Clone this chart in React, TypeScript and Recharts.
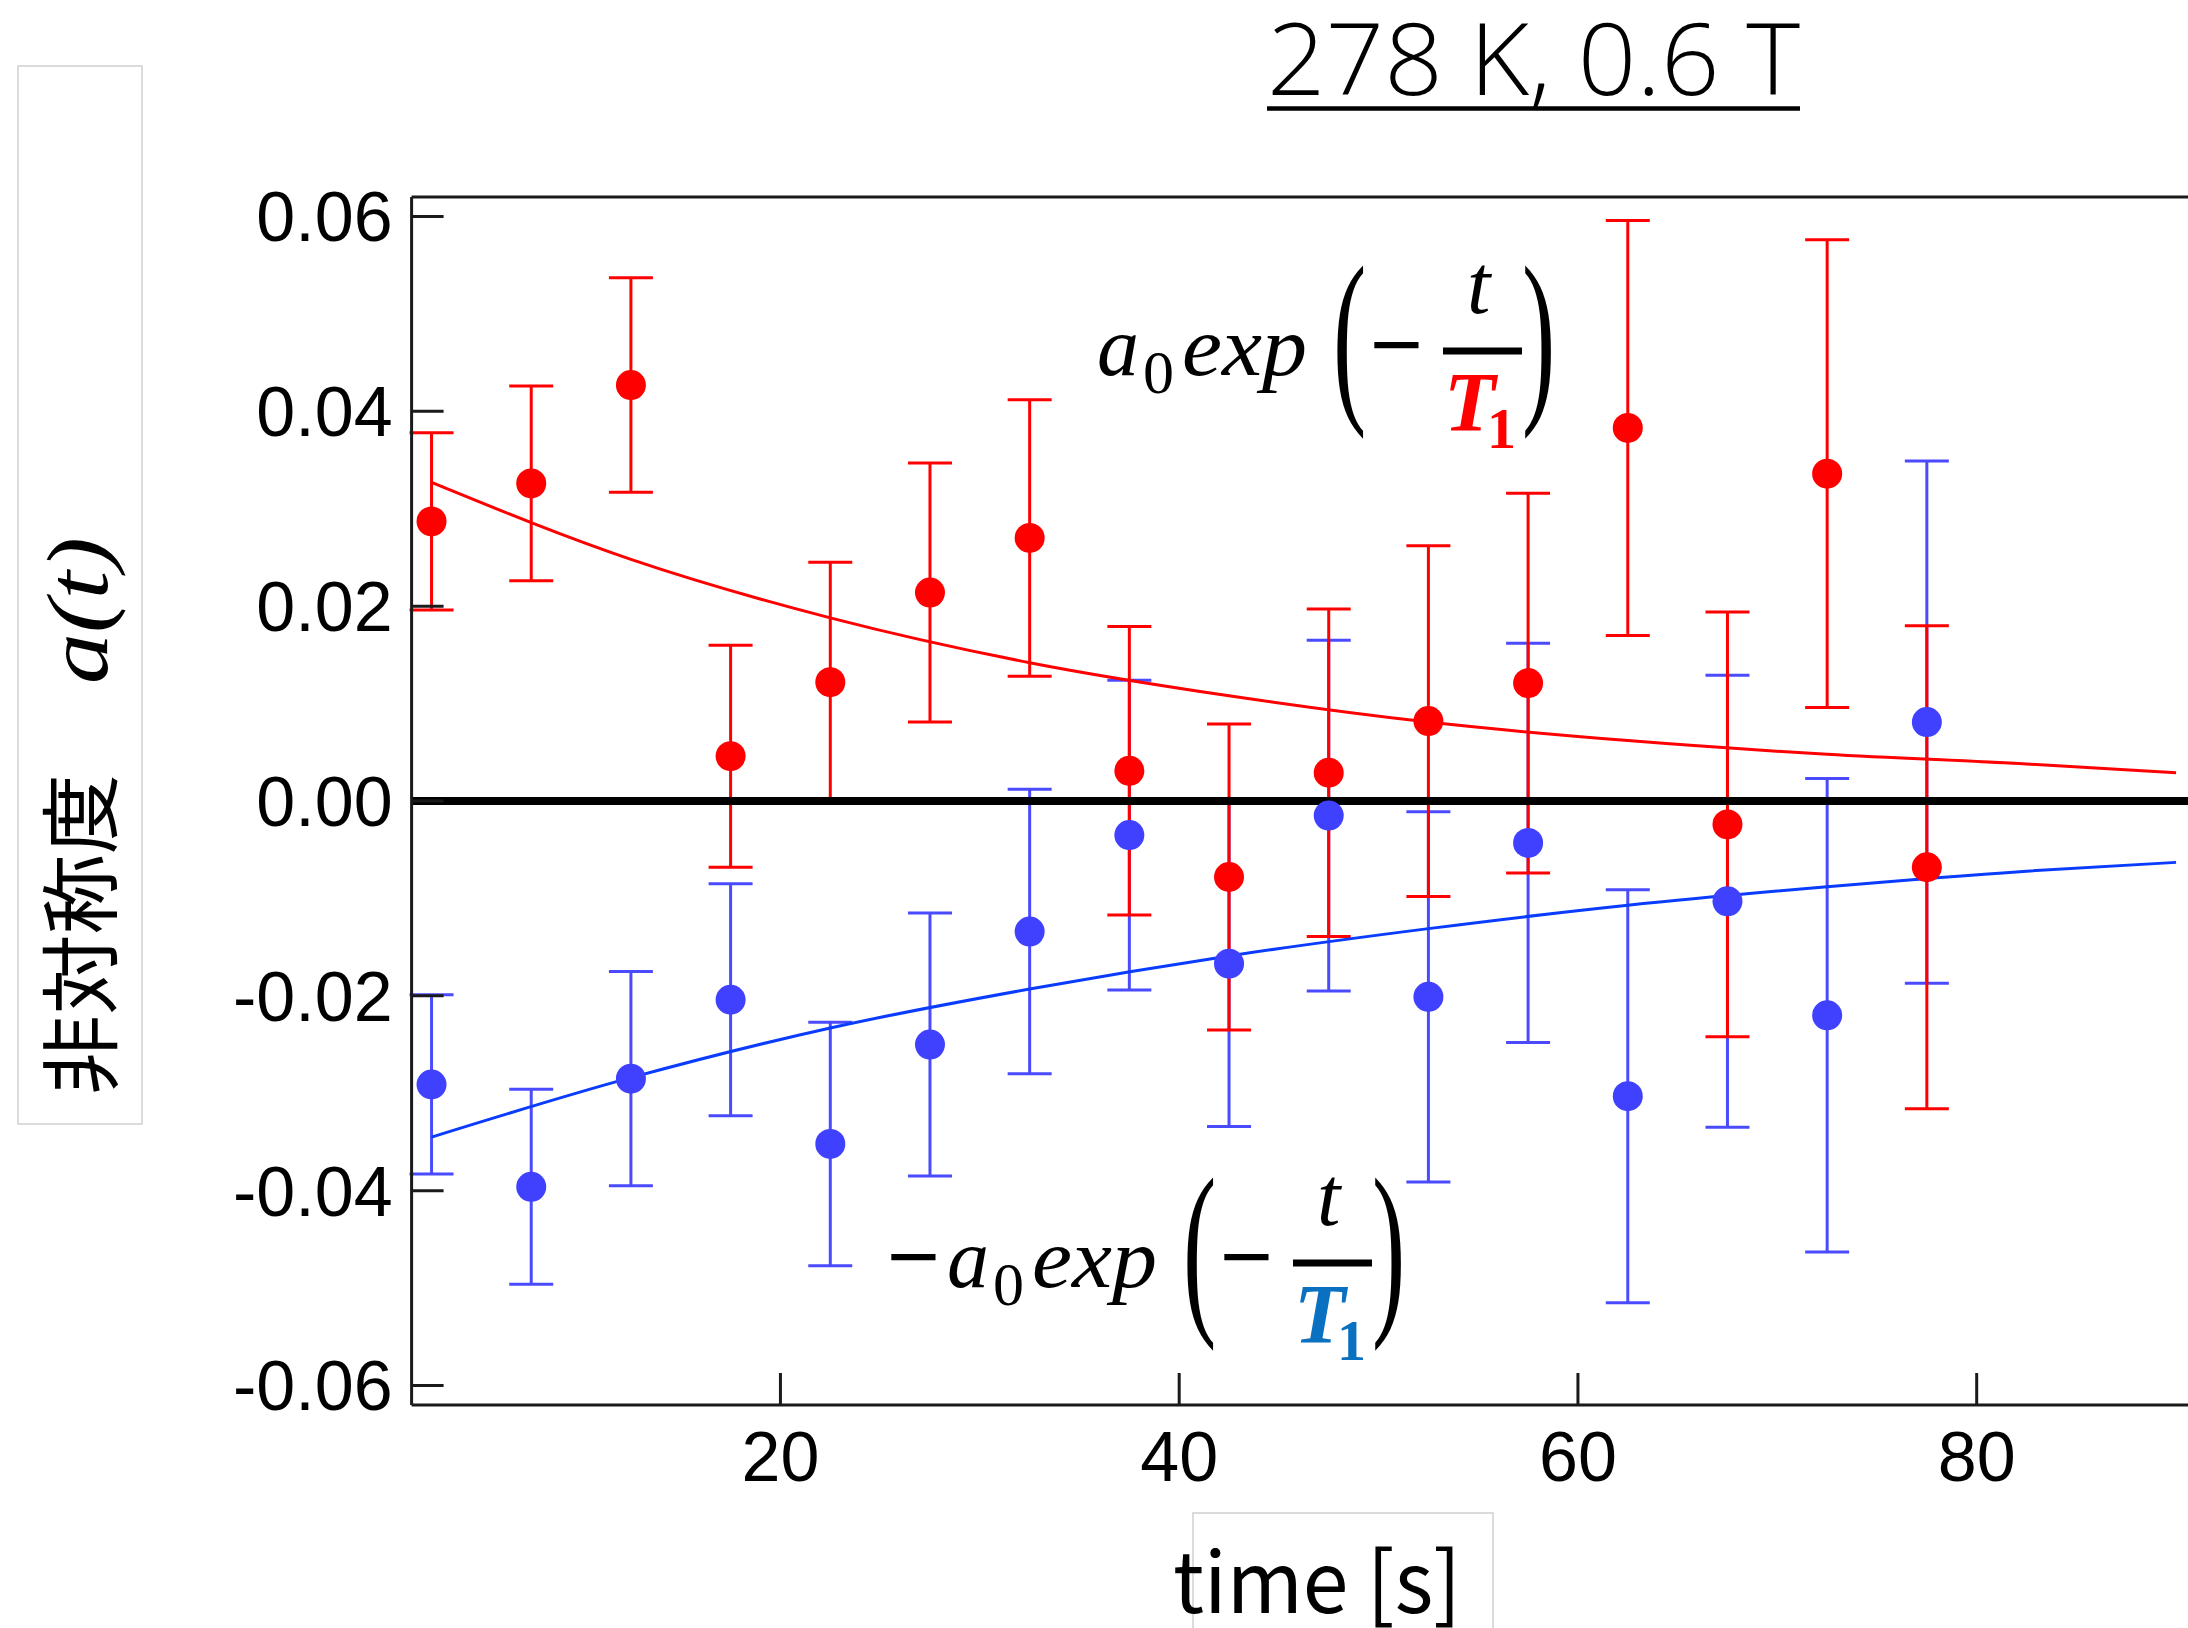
import React from "react";
import { ComposedChart, XAxis, YAxis, Scatter, ErrorBar, Line, ReferenceLine } from "recharts";

// time bins [s]
const times = [2.5, 7.5, 12.5, 17.5, 22.5, 27.5, 32.5, 37.5, 42.5, 47.5, 52.5, 57.5, 62.5, 67.5, 72.5, 77.5];

// asymmetry, red series (+ helicity)
const redValues = [0.0287, 0.0326, 0.0427, 0.0046, 0.0122, 0.0214, 0.027, 0.0031, -0.0078, 0.0029, 0.0082, 0.0121, 0.0383, -0.0024, 0.0336, -0.0068];
const redErrors = [0.0091, 0.01, 0.011, 0.0114, 0.0123, 0.0133, 0.0142, 0.0148, 0.0157, 0.0168, 0.018, 0.0195, 0.0213, 0.0218, 0.024, 0.0248];

// asymmetry, blue series (- helicity)
const blueValues = [-0.0291, -0.0396, -0.0285, -0.0204, -0.0352, -0.025, -0.0134, -0.0035, -0.0167, -0.0015, -0.0201, -0.0043, -0.0303, -0.0103, -0.022, 0.0081];
const blueErrors = [0.0092, 0.01, 0.011, 0.0119, 0.0125, 0.0135, 0.0146, 0.0159, 0.0167, 0.018, 0.019, 0.0205, 0.0212, 0.0232, 0.0243, 0.0268];

// fitted curves
const fitTimes = [2.5, 12.5, 22.5, 32.5, 42.5, 52.5, 62.5, 72.5, 82.5, 90];
const redFit = [0.0327, 0.0248, 0.0188, 0.0142, 0.0108, 0.0081, 0.0062, 0.0048, 0.0038, 0.0029];
const blueFit = [-0.0345, -0.0284, -0.0233, -0.0193, -0.0159, -0.0131, -0.0107, -0.0088, -0.0072, -0.0063];

const xTicks = [20, 40, 60, 80];
const yTicks = [-0.06, -0.04, -0.02, 0, 0.02, 0.04, 0.06];

const RED = "#ff0000";
const BLUE_PT = "#4040ff";
const BLUE_LINE = "#0a3cff";
const T1_BLUE = "#0a70c0";

const redData = times.map((t, i) => ({ t, a: redValues[i], e: redErrors[i] }));
const blueData = times.map((t, i) => ({ t, a: blueValues[i], e: blueErrors[i] }));
const redFitData = fitTimes.map((t, i) => ({ t, v: redFit[i] }));
const blueFitData = fitTimes.map((t, i) => ({ t, v: blueFit[i] }));

const sans = "'Liberation Sans', Arial, Helvetica, sans-serif";
const serif = "'Liberation Serif', 'DejaVu Serif', serif";
const jp = "'Noto Sans CJK JP', 'Noto Sans', sans-serif";

const dot = (color: string) => (p: any) => <circle cx={p.cx} cy={p.cy} r={15} fill={color} />;
const noDot = () => <g />;

function Formula({ dx, dy, negative, tColor }: { dx: number; dy: number; negative?: boolean; tColor: string }) {
  return (
    <g transform={`translate(${dx},${dy})`} fontFamily={serif} fill="#000">
      {negative && (
        <text x={1038} y={373} fontSize={84} textLength={51} lengthAdjust="spacingAndGlyphs" stroke="#000" strokeWidth={2}>
          −
        </text>
      )}
      <text x={1097} y={375} fontSize={84} fontStyle="italic">a</text>
      <text x={1143} y={393} fontSize={62}>0</text>
      <text x={1182} y={375} fontSize={84} fontStyle="italic" textLength={125} lengthAdjust="spacingAndGlyphs">exp</text>
      <text transform="translate(1333,398) scale(1,1.9)" fontSize={100}>(</text>
      <text x={1371} y={373} fontSize={84} textLength={51} lengthAdjust="spacingAndGlyphs" stroke="#000" strokeWidth={2}>−</text>
      <line x1={1443} x2={1522} y1={351} y2={351} stroke="#000" strokeWidth={7} />
      <text x={1467} y={313} fontSize={84} fontStyle="italic">t</text>
      <text x={1444} y={431} fontSize={84} fontStyle="italic" fontWeight="bold" fill={tColor}>T</text>
      <text x={1487} y={448} fontSize={58} fontWeight="bold" fill={tColor}>1</text>
      <text transform="translate(1522,398) scale(1,1.9)" fontSize={100}>)</text>
    </g>
  );
}

export default function App() {
  return (
    <div style={{ position: "fixed", left: 0, top: 0, width: 2188, height: 1628, overflow: "hidden", background: "#fff" }}>
      <ComposedChart width={2240} height={1628} margin={{ top: 167, right: 14, bottom: 163, left: 311.6 }}>
        <XAxis
          type="number"
          dataKey="t"
          domain={[1.5, 91]}
          ticks={xTicks}
          allowDataOverflow
          height={60}
          tickSize={-32}
          tickMargin={58}
          axisLine={{ stroke: "#1a1a1a", strokeWidth: 3 }}
          tickLine={{ stroke: "#1a1a1a", strokeWidth: 3 }}
          tick={{ fontSize: 70, fill: "#000", fontFamily: sans }}
        />
        <XAxis
          xAxisId="top"
          orientation="top"
          type="number"
          dataKey="t"
          domain={[1.5, 91]}
          ticks={xTicks}
          allowDataOverflow
          height={30}
          tickSize={-32}
          axisLine={{ stroke: "#1a1a1a", strokeWidth: 3 }}
          tickLine={{ stroke: "#1a1a1a", strokeWidth: 3 }}
          tick={false}
        />
        <YAxis
          type="number"
          domain={[-0.062, 0.062]}
          ticks={yTicks}
          allowDataOverflow
          width={100}
          tickSize={-32}
          tickMargin={51}
          tickFormatter={(v: number) => v.toFixed(2)}
          axisLine={{ stroke: "#1a1a1a", strokeWidth: 3 }}
          tickLine={{ stroke: "#1a1a1a", strokeWidth: 3 }}
          tick={{ fontSize: 70, fill: "#000", fontFamily: sans }}
        />
        <YAxis
          yAxisId="right"
          orientation="right"
          type="number"
          domain={[-0.062, 0.062]}
          ticks={yTicks}
          allowDataOverflow
          width={30}
          tickSize={-32}
          axisLine={{ stroke: "#1a1a1a", strokeWidth: 3 }}
          tickLine={{ stroke: "#1a1a1a", strokeWidth: 3 }}
          tick={false}
        />

        <Scatter data={blueData} dataKey="a" shape={noDot} isAnimationActive={false}>
          <ErrorBar dataKey="e" direction="y" width={22} stroke="#4a4aff" strokeWidth={3} isAnimationActive={false} />
        </Scatter>
        <Scatter data={redData} dataKey="a" shape={noDot} isAnimationActive={false}>
          <ErrorBar dataKey="e" direction="y" width={22} stroke={RED} strokeWidth={3} isAnimationActive={false} />
        </Scatter>

        <Line data={blueFitData} dataKey="v" type="monotone" stroke={BLUE_LINE} strokeWidth={3} dot={false} isAnimationActive={false} />
        <Line data={redFitData} dataKey="v" type="monotone" stroke={RED} strokeWidth={3} dot={false} isAnimationActive={false} />

        <Scatter data={blueData} dataKey="a" shape={dot(BLUE_PT)} isAnimationActive={false} />
        <Scatter data={redData} dataKey="a" shape={dot(RED)} isAnimationActive={false} />

        <ReferenceLine y={0} stroke="#000" strokeWidth={8} />
      </ComposedChart>

      <svg width={2188} height={1628} style={{ position: "absolute", left: 0, top: 0, pointerEvents: "none" }}>
        {/* title */}
        <text x={1267} y={95} fontSize={100} fontFamily="'Open Sans', 'Noto Sans', sans-serif" fontWeight={300} textLength={533} lengthAdjust="spacingAndGlyphs">
          278 K, 0.6 T
        </text>
        <line x1={1267} x2={1800} y1={108.5} y2={108.5} stroke="#000" strokeWidth={4.5} />

        {/* y label */}
        <rect x={18} y={66} width={124} height={1058} fill="none" stroke="#cfcfcf" strokeWidth={1.5} />
        <g transform="translate(110,1095) rotate(-90)">
          <text x={0} y={0} fontSize={80} fontFamily={jp} textLength={321} lengthAdjust="spacingAndGlyphs">非対称度</text>
          <text x={411} y={-3} fontSize={86} fontFamily={serif} fontStyle="italic" textLength={147} lengthAdjust="spacingAndGlyphs">a(t)</text>
        </g>

        {/* x label */}
        <rect x={1193} y={1513} width={300} height={200} fill="none" stroke="#cfcfcf" strokeWidth={1.5} />
        <text x={1173} y={1613} fontSize={84} fontFamily={jp} textLength={288} lengthAdjust="spacingAndGlyphs">time [s]</text>

        {/* fit formulas */}
        <Formula dx={0} dy={0} tColor={RED} />
        <Formula dx={-150} dy={912} negative tColor={T1_BLUE} />
      </svg>
    </div>
  );
}
